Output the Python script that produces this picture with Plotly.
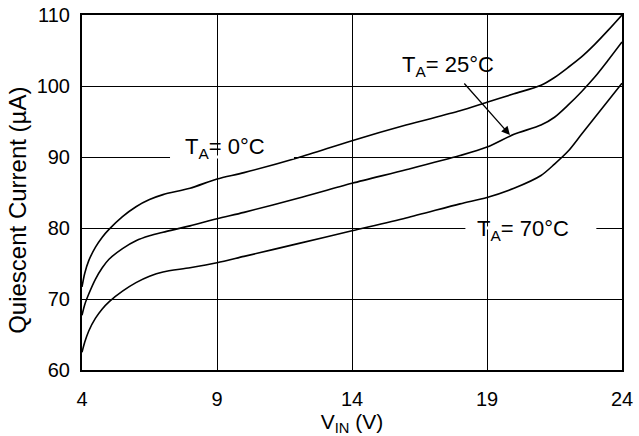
import plotly.graph_objects as go

# Supply voltage (V)
vin = [4, 4.1, 4.25, 4.5, 4.75, 5, 5.5, 6, 6.5, 7, 8, 9, 10, 12, 14, 16, 18, 19, 20, 21, 21.5, 22, 22.5, 23, 23.5, 24]

# Quiescent current (uA)
iq_0c = [71.7, 73.6, 75.4, 77.3, 78.7, 79.8, 81.6, 83.0, 84.0, 84.7, 85.6, 86.9, 87.8, 89.9, 92.3, 94.5, 96.5,
         97.7, 98.9, 100.1, 101.2, 102.6, 104.1, 105.9, 107.9, 110.0]
iq_25c = [67.7, 69.2, 70.7, 72.8, 74.4, 75.6, 77.1, 78.2, 78.9, 79.4, 80.3, 81.3, 82.2, 84.2, 86.3, 88.2, 90.2,
          91.4, 93.2, 94.5, 95.6, 97.3, 99.2, 101.3, 103.7, 106.2]
iq_70c = [62.5, 63.9, 65.5, 67.3, 68.6, 69.6, 71.1, 72.3, 73.2, 73.8, 74.4, 75.1, 76.0, 77.8, 79.6, 81.4, 83.4,
          84.3, 85.6, 87.4, 89.0, 90.8, 93.2, 95.6, 98.0, 100.4]

x_ticks = [4, 9, 14, 19, 24]
y_ticks = [60, 70, 80, 90, 100, 110]

FONT = "Liberation Sans, Arial, Helvetica, sans-serif"

fig = go.Figure()
for ys in (iq_0c, iq_25c, iq_70c):
    fig.add_trace(go.Scatter(x=vin, y=ys, mode="lines",
                             line=dict(color="black", width=1.6, shape="spline", smoothing=0.8),
                             showlegend=False, hoverinfo="skip"))

# white gaps in gridlines behind labels
fig.add_shape(type="line", x0=7.26, x1=11.85, y0=90, y1=90, layer="above",
              line=dict(color="white", width=3))
fig.add_shape(type="line", x0=18.2, x1=23.05, y0=80, y1=80, layer="above",
              line=dict(color="white", width=3))

fig.add_annotation(x=9.3, y=91.2, text="T<sub>A</sub>= 0°C", showarrow=False,
                   font=dict(family=FONT, size=22, color="black"))
fig.add_annotation(x=20.33, y=79.7, text="T<sub>A</sub>= 70°C", showarrow=False,
                   font=dict(family=FONT, size=22, color="black"))
fig.add_annotation(x=17.56, y=102.8, text="T<sub>A</sub>= 25°C", showarrow=False,
                   font=dict(family=FONT, size=22, color="black"))
fig.add_annotation(x=19.85, y=93.1, ax=18.11, ay=100.56, axref="x", ayref="y",
                   xref="x", yref="y", text="", showarrow=True,
                   arrowhead=2, arrowsize=1.3, arrowwidth=1.3, arrowcolor="black")

# y-axis title
fig.add_annotation(xref="paper", yref="paper", x=-0.148, y=0.45, textangle=-90,
                   text="Quiescent Current (µA)", showarrow=False,
                   font=dict(family=FONT, size=24, color="black"))

fig.update_layout(
    width=639, height=436,
    margin=dict(l=82, r=17, t=15, b=66),
    paper_bgcolor="white", plot_bgcolor="white",
    font=dict(family=FONT, size=20, color="black"),
)
fig.update_xaxes(range=[4, 24], tickvals=x_ticks, ticktext=[str(v) for v in x_ticks],
                 showgrid=True, gridcolor="black", gridwidth=1,
                 showline=True, linecolor="black", linewidth=2, mirror=True,
                 zeroline=False, ticks="", ticklabelstandoff=10, automargin=False,
                 title=dict(text="V<sub>IN</sub> (V)", standoff=2,
                            font=dict(family=FONT, size=21)))
fig.update_yaxes(range=[60, 110], tickvals=y_ticks, ticktext=[str(v) for v in y_ticks],
                 showgrid=True, gridcolor="black", gridwidth=1,
                 showline=True, linecolor="black", linewidth=2, mirror=True,
                 zeroline=False, ticks="", ticklabelstandoff=6, automargin=False)

fig.write_html("out.html", config={"displayModeBar": False},
               post_script="document.body.style.margin='0px';document.body.style.overflow='hidden';")
